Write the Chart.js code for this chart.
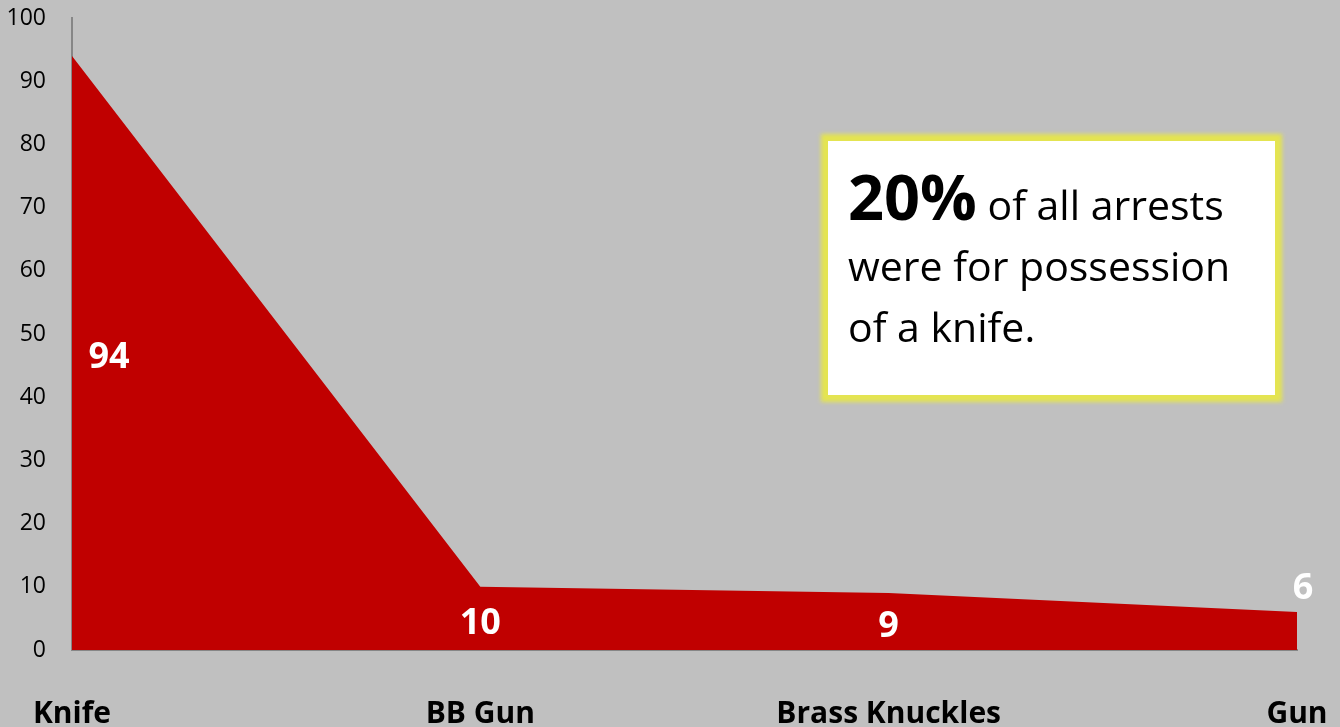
<!DOCTYPE html>
<html>
<head>
<meta charset="utf-8">
<script src="https://cdn.jsdelivr.net/npm/chart.js@4.4.1/dist/chart.umd.min.js"></script>
<style>
  html, body { margin: 0; padding: 0; background: #c0c0c0; }
  #wrap { position: relative; width: 1340px; height: 727px; }
  #c { position: absolute; left: 0; top: 0; }
  #note {
    position: absolute; left: 828px; top: 141px; width: 447px; height: 254px;
    background: #ffffff; box-sizing: border-box;
    box-shadow: 0 0 4px 7px #e4e451;
    font-family: "Open Sans", Lato, sans-serif; color: #000;
    padding: 24px 0 0 20px;
    font-size: 41px; line-height: 61px;
    white-space: nowrap;
  }
  #note b { font-size: 63px; font-weight: 700; }
</style>
</head>
<body>
<div id="wrap">
  <canvas id="c" width="1340" height="727"></canvas>
  <div id="note"><b>20%</b> of all arrests<br>were for possession<br>of a knife.</div>
</div>
<script>
const categories = ["Knife", "BB Gun", "Brass Knuckles", "Gun"];
const arrests = [94, 10, 9, 6];
const yTicks = [0, 10, 20, 30, 40, 50, 60, 70, 80, 90, 100];

const FONT = '"Open Sans", Lato, sans-serif';

const valueLabels = {
  id: 'valueLabels',
  afterDatasetsDraw(chart) {
    const ctx = chart.ctx;
    const xs = chart.scales.x, ys = chart.scales.y;
    const data = chart.data.datasets[0].data;
    ctx.save();
    ctx.fillStyle = '#ffffff';
    ctx.font = 'bold 36px ' + FONT;
    ctx.textAlign = 'center';
    ctx.textBaseline = 'middle';
    data.forEach((v, i) => {
      let x = xs.getPixelForValue(i);
      let y = ys.getPixelForValue(v / 2) + 5;
      if (i === 0) x += 37;
      if (i === data.length - 1) { x += 6; y = ys.getPixelForValue(v) - 23; }
      ctx.fillText(String(v), x, y);
    });
    ctx.restore();
  }
};

new Chart(document.getElementById('c'), {
  type: 'line',
  data: {
    labels: categories,
    datasets: [{
      data: arrests,
      fill: 'origin',
      backgroundColor: '#c00000',
      borderWidth: 0,
      borderColor: 'rgba(0,0,0,0)',
      pointRadius: 0,
      tension: 0
    }]
  },
  options: {
    responsive: false,
    animation: false,
    devicePixelRatio: 1,
    layout: { padding: { left: 0, right: 43, top: 18, bottom: 0 } },
    plugins: { legend: { display: false }, tooltip: { enabled: false } },
    scales: {
      x: {
        offset: false,
        grid: { display: false, drawTicks: true, tickLength: 44, tickColor: 'rgba(0,0,0,0)' },
        border: { display: true, color: '#868686', width: 2 },
        ticks: {
          color: '#000', padding: 2, maxRotation: 0, autoSkip: false,
          font: { family: FONT, size: 30, weight: 'bold' }
        },
        afterFit(s) { s.height = 77; }
      },
      y: {
        min: 0, max: 100,
        grid: { display: false, drawTicks: true, tickLength: 24, tickColor: 'rgba(0,0,0,0)' },
        border: { display: true, color: '#868686', width: 2 },
        afterBuildTicks(s) { s.ticks = yTicks.map(v => ({ value: v })); },
        ticks: {
          color: '#000', padding: 2,
          font: { family: FONT, size: 23 }
        },
        afterFit(s) { s.width = 72; }
      }
    }
  },
  plugins: [valueLabels]
});
</script>
</body>
</html>
